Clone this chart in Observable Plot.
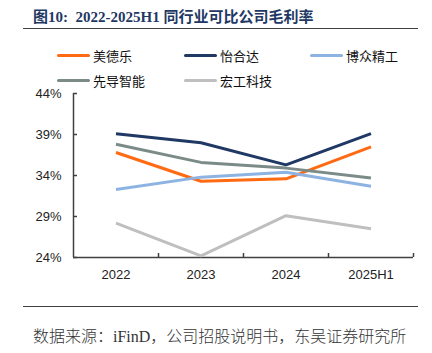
<!DOCTYPE html>
<html>
<head>
<meta charset="utf-8">
<script src="https://cdn.jsdelivr.net/npm/d3@7"></script>
<script src="https://cdn.jsdelivr.net/npm/@observablehq/plot@0.6"></script>
<style>
  html, body { margin: 0; padding: 0; background: #fff; }
  #wrap { position: relative; width: 432px; height: 353px; overflow: hidden; background: #fff; }
  .abs { position: absolute; white-space: nowrap; }
  #title { left: 33px; top: 5px; font: bold 15px "Liberation Serif", "Noto Sans CJK SC", serif; color: #1F3864; }
  .hr { position: absolute; left: 23px; width: 395px; height: 0; border-top: 1.5px solid #404040; }
  #footer { left: 33px; top: 323px; font: 16px "Liberation Serif", "Noto Sans CJK SC", serif; color: #333; font-weight: 300; }
  .leg { position: absolute; display: flex; align-items: center; font: 13px "Noto Sans CJK SC", sans-serif; color: #111; }
  .leg .sw { width: 33px; height: 3px; border-radius: 1.5px; margin-right: 3px; }
  #chart { position: absolute; left: 0; top: 0; }
</style>
</head>
<body>
<div id="wrap">
  <div id="chart"></div>
  <div id="title" class="abs">图10:&nbsp;&nbsp;2022-2025H1 同行业可比公司毛利率</div>
  <div class="hr" style="top:28px"></div>
  <div id="legend"></div>
  <div class="hr" style="top:306px"></div>
  <div id="footer" class="abs">数据来源：iFinD，公司招股说明书，东吴证券研究所</div>
</div>
<script>
const categories = ["2022", "2023", "2024", "2025H1"];
const seriesNames = ["美德乐", "怡合达", "博众精工", "先导智能", "宏工科技"];
const meideleValues = [36.8, 33.3, 33.6, 37.5];
const yihedaValues = [39.1, 38.0, 35.3, 39.1];
const bozhongValues = [32.3, 33.8, 34.4, 32.7];
const xiandaoValues = [37.8, 35.6, 34.9, 33.7];
const honggongValues = [28.2, 24.2, 29.1, 27.5];
const yTicks = [24, 29, 34, 39, 44];
const seriesColors = ["#FF6A13", "#1F3864", "#8DB3E2", "#7B8B88", "#BFBFBF"];

const seriesValues = [meideleValues, yihedaValues, bozhongValues, xiandaoValues, honggongValues];
const rows = [];
seriesNames.forEach((name, s) => {
  seriesValues[s].forEach((v, i) => rows.push({series: name, idx: i, cat: categories[i], value: v}));
});

// legend
const legendPos = [[57, 55], [184, 55], [310, 55], [57, 80], [184, 80]];
const legend = document.getElementById("legend");
seriesNames.forEach((name, i) => {
  const el = document.createElement("div");
  el.className = "leg";
  el.style.left = legendPos[i][0] + "px";
  el.style.top = (legendPos[i][1] - 9) + "px";
  el.style.height = "18px";
  el.innerHTML = `<span class="sw" style="background:${seriesColors[i]}"></span><span>${name}</span>`;
  legend.appendChild(el);
});

const boundaries = categories.map((c, i) => i + 0.5);

const chart = Plot.plot({
  width: 432,
  height: 353,
  marginTop: 93,
  marginBottom: 96,
  marginLeft: 73,
  marginRight: 19,
  style: {fontFamily: "'Liberation Sans', Arial, sans-serif", fontSize: "13px", color: "#222", background: "transparent"},
  x: {type: "linear", domain: [-0.5, categories.length - 0.5], label: null},
  y: {domain: [24, 44], label: null},
  color: {domain: seriesNames, range: seriesColors},
  marks: [
    Plot.axisY({ticks: yTicks, tickSize: 0, tickPadding: 12, tickFormat: d => d + "%", fontSize: 13, fill: "#222", label: null}),
    Plot.axisX({ticks: categories.map((c, i) => i), tickSize: 0, tickPadding: 12, tickFormat: i => categories[i], fontSize: 13, fill: "#222", label: null}),
    Plot.tickY(yTicks, {y: d => d, insetRight: 336, stroke: "#404040", strokeWidth: 1.5}),
    Plot.tickX(boundaries, {x: d => d, insetTop: 160, stroke: "#404040", strokeWidth: 1.5}),
    Plot.ruleX([-0.5], {stroke: "#404040", strokeWidth: 1.5}),
    Plot.ruleY([24], {stroke: "#404040", strokeWidth: 1.5}),
    Plot.line(rows, {x: "idx", y: "value", z: "series", stroke: "series", strokeWidth: 3, strokeLinecap: "butt", strokeLinejoin: "round"})
  ]
});
document.getElementById("chart").appendChild(chart);
</script>
</body>
</html>
